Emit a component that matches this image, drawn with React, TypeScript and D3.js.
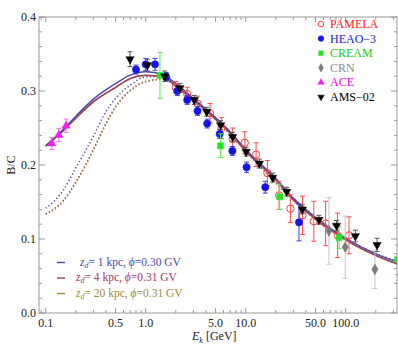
import * as d3 from 'd3';

// model curves (B/C vs kinetic energy per nucleon)
const curveE = [0.1, 0.15, 0.2, 0.3, 0.5, 0.7, 1, 1.5, 2, 3, 5, 7, 10, 20, 30, 50, 100, 200, 350];
const solidZ1 = [0.226, 0.248, 0.266, 0.289, 0.31, 0.3215, 0.326, 0.322, 0.31, 0.29, 0.264, 0.245, 0.221, 0.182, 0.155, 0.129, 0.101, 0.08, 0.068];
const solidZ4 = [0.226, 0.247, 0.264, 0.2856, 0.305, 0.317, 0.3215, 0.319, 0.307, 0.288, 0.262, 0.243, 0.219, 0.18, 0.153, 0.127, 0.099, 0.078, 0.065];
const solidZ20 = [0.225, 0.246, 0.263, 0.285, 0.3045, 0.3165, 0.321, 0.3185, 0.3065, 0.2875, 0.2615, 0.2425, 0.2185, 0.1795, 0.1525, 0.1265, 0.0985, 0.0775, 0.0645];

const dotE = [0.1, 0.15, 0.2, 0.25, 0.3, 0.4, 0.5, 0.7, 1, 1.5, 2, 3, 5, 10, 30, 100, 350];
const dotZ1 = [0.1415, 0.166, 0.196, 0.219, 0.239, 0.272, 0.29, 0.308, 0.319, 0.3195, 0.309, 0.29, 0.264, 0.221, 0.155, 0.101, 0.068];
const dotZ4 = [0.134, 0.152, 0.177, 0.2, 0.221, 0.256, 0.279, 0.301, 0.313, 0.316, 0.307, 0.289, 0.262, 0.219, 0.153, 0.099, 0.065];
const dotZ20 = [0.133, 0.151, 0.176, 0.199, 0.22, 0.255, 0.278, 0.3, 0.3125, 0.3155, 0.3065, 0.2885, 0.2615, 0.2185, 0.1525, 0.0985, 0.0645];

// experimental data
const pamelaE = [2.0, 2.6, 3.3, 4.4, 5.75, 7.4, 9.8, 12.7, 16.5, 21.6, 28, 37, 48, 63, 83, 108];
const pamelaV = [0.305, 0.296, 0.283, 0.27, 0.25, 0.235, 0.23, 0.214, 0.189, 0.159, 0.141, 0.132, 0.124, 0.121, 0.105, 0.105];
const pamelaErr = [0.008, 0.009, 0.01, 0.013, 0.014, 0.015, 0.015, 0.016, 0.017, 0.019, 0.019, 0.026, 0.027, 0.03, 0.03, 0.025];

const heaoE = [0.8, 1.0, 1.24, 1.6, 2.07, 2.6, 3.3, 4.12, 5.5, 7.36, 10.2, 15.7, 34.1];
const heaoV = [0.329, 0.336, 0.336, 0.319, 0.3, 0.288, 0.273, 0.256, 0.242, 0.219, 0.197, 0.17, 0.1225];
const heaoErr = [0.006, 0.008, 0.008, 0.006, 0.006, 0.006, 0.006, 0.006, 0.006, 0.006, 0.007, 0.008, 0.025];

const creamE = [1.39, 5.6, 21.9, 86, 330];
const creamV = [0.321, 0.226, 0.157, 0.102, 0.072];
const creamErr = [0.031, 0.016, 0.017, 0.015, 0.02];

const crnE = [68, 99, 196];
const crnV = [0.111, 0.089, 0.059];
const crnErr = [0.045, 0.042, 0.026];

const aceE = [0.115, 0.135, 0.16];
const aceV = [0.229, 0.2405, 0.253];
const aceErr = [0.008, 0.009, 0.009];

const amsE = [0.697, 1.04, 1.55, 2.2, 3.06, 4.07, 5.62, 7.4, 10.1, 13.7, 18.6, 25.7, 36.8, 54, 81, 125, 206];
const amsV = [0.343, 0.335, 0.32, 0.304, 0.288, 0.272, 0.254, 0.238, 0.218, 0.202, 0.183, 0.164, 0.14, 0.126, 0.118, 0.104, 0.092];
const amsErr = [0.01, 0.008, 0.007, 0.006, 0.006, 0.006, 0.006, 0.006, 0.006, 0.006, 0.006, 0.006, 0.006, 0.006, 0.007, 0.008, 0.009];

const xTickLabels = ['0.1', '0.5', '1.0', '5.0', '10.0', '50.0', '100.0'];
const yTickLabels = ['0.0', '0.1', '0.2', '0.3', '0.4'];

const modelNames = ['1', '4', '20'];
const modelPhi = ['0.30', '0.31', '0.31'];
const modelColors = ['#4b4ba6', '#a3386c', '#9d8b3a'];

const W = 398;
const H = 354;
const font = "'Liberation Serif', 'DejaVu Serif', serif";

const x = d3.scaleLog().domain([0.0857, 326]).range([39, 397]);
const y = d3.scaleLinear().domain([0, 0.4]).range([313, 17]);

type Series = {
  name: string;
  E: number[];
  V: number[];
  err: number[];
  color: string;
  bar: string;
  text: string;
  shape: d3.SymbolType;
  size: number;
  open?: boolean;
  flip?: boolean;
};

const series: Series[] = [
  { name: 'PAMELA', E: pamelaE, V: pamelaV, err: pamelaErr, color: '#ff3b3b', bar: '#ff4a4a', text: '#ff2020', shape: d3.symbolCircle, size: 42, open: true },
  { name: 'HEAO\u22123', E: heaoE, V: heaoV, err: heaoErr, color: '#1414e6', bar: '#3a3aee', text: '#2020e0', shape: d3.symbolCircle, size: 42 },
  { name: 'CREAM', E: creamE, V: creamV, err: creamErr, color: '#1ee61e', bar: '#55ee55', text: '#10d010', shape: d3.symbolSquare, size: 36 },
  { name: 'CRN', E: crnE, V: crnV, err: crnErr, color: '#7a7a7a', bar: '#c4c4c4', text: '#8a8a8a', shape: d3.symbolDiamond, size: 34 },
  { name: 'ACE', E: aceE, V: aceV, err: aceErr, color: '#f020f0', bar: '#f070f0', text: '#f000f0', shape: d3.symbolTriangle, size: 30 },
  { name: 'AMS\u221202', E: amsE, V: amsV, err: amsErr, color: '#000000', bar: '#555555', text: '#000000', shape: d3.symbolTriangle, size: 30, flip: true },
];

const line = d3
  .line<[number, number]>()
  .x((d) => x(d[0]))
  .y((d) => y(d[1]))
  .curve(d3.curveMonotoneX);

const zip = (a: number[], b: number[]) => a.map((e, i) => [e, b[i]] as [number, number]);

const solids = [solidZ1, solidZ4, solidZ20];
const dots = [dotZ1, dotZ4, dotZ20];

// log-axis ticks
const majorX = [0.1, 0.5, 1, 5, 10, 50, 100];
const minorX: number[] = [];
for (const dec of [0.01, 0.1, 1, 10, 100]) {
  for (let k = 1; k < 10; k++) {
    const v = dec * k;
    if (v >= x.domain()[0] && v <= x.domain()[1] && !majorX.some((m) => Math.abs(m - v) < 1e-9)) minorX.push(v);
  }
}
const majorY = d3.range(0, 0.41, 0.1);
const minorY = d3.range(0, 0.401, 0.02).filter((v) => Math.abs(v * 10 - Math.round(v * 10)) > 1e-6);

function Marker({ s, cx, cy, scale = 1 }: { s: Series; cx: number; cy: number; scale?: number }) {
  const d = d3.symbol().type(s.shape).size(s.size * scale)()!;
  return (
    <path
      d={d}
      transform={`translate(${cx},${cy})${s.flip ? ' rotate(180)' : ''}`}
      fill={s.open ? 'none' : s.color}
      stroke={s.color}
      strokeWidth={s.open ? 1 : 0.5}
    />
  );
}

export default function App() {
  const [x0, x1] = x.range();
  const [yb, yt] = y.range();
  const frame = '#9a9a9a';
  return (
    <svg width={W} height={H} style={{ position: 'absolute', left: 0, top: 0, background: '#fff', fontFamily: font }}>
      <defs>
        <clipPath id="plot">
          <rect x={x0} y={yt} width={x1 - x0} height={yb - yt} />
        </clipPath>
      </defs>

      {/* frame */}
      <rect x={x0} y={yt} width={x1 - x0} height={yb - yt} fill="none" stroke={frame} strokeWidth={1} />

      {/* x ticks, bottom and top */}
      {majorX.map((v) => (
        <g key={'mx' + v}>
          <line x1={x(v)} x2={x(v)} y1={yb} y2={yb - 5} stroke={frame} />
          <line x1={x(v)} x2={x(v)} y1={yt} y2={yt + 5} stroke={frame} />
        </g>
      ))}
      {minorX.map((v) => (
        <g key={'nx' + v}>
          <line x1={x(v)} x2={x(v)} y1={yb} y2={yb - 3} stroke={frame} />
          <line x1={x(v)} x2={x(v)} y1={yt} y2={yt + 3} stroke={frame} />
        </g>
      ))}
      {majorX.map((v, i) => (
        <text key={'lx' + v} x={x(v)} y={yb + 14} textAnchor="middle" fontSize={12} fill="#222">
          {xTickLabels[i]}
        </text>
      ))}

      {/* y ticks, left and right */}
      {majorY.map((v) => (
        <g key={'my' + v}>
          <line x1={x0} x2={x0 + 6} y1={y(v)} y2={y(v)} stroke={frame} />
          <line x1={x1} x2={x1 - 6} y1={y(v)} y2={y(v)} stroke={frame} />
        </g>
      ))}
      {minorY.map((v) => (
        <g key={'ny' + v}>
          <line x1={x0} x2={x0 + 3} y1={y(v)} y2={y(v)} stroke={frame} />
          <line x1={x1} x2={x1 - 3} y1={y(v)} y2={y(v)} stroke={frame} />
        </g>
      ))}
      {majorY.map((v, i) => (
        <text key={'ly' + i} x={x0 - 3} y={y(v) + 4} textAnchor="end" fontSize={12} fill="#222">
          {yTickLabels[i]}
        </text>
      ))}

      {/* axis titles */}
      <text transform={`translate(15,${(yt + yb) / 2}) rotate(-90)`} textAnchor="middle" fontSize={12} fill="#222">
        B/C
      </text>
      <text x={192} y={340} fontSize={12} fill="#222">
        <tspan fontStyle="italic">E</tspan>
        <tspan fontStyle="italic" fontSize={8} dy={3}>k</tspan>
        <tspan dy={-3}> [GeV]</tspan>
      </text>

      <g clipPath="url(#plot)">
        {/* interstellar (dotted) curves */}
        {dots.map((vals, i) => (
          <path
            key={'dot' + i}
            d={line(zip(dotE, vals))!}
            fill="none"
            stroke={modelColors[i]}
            strokeWidth={1.5}
            strokeDasharray="1.3,2.3"
          />
        ))}
        {/* modulated (solid) curves */}
        {[2, 1, 0].map((i) => (
          <path key={'sol' + i} d={line(zip(curveE, solids[i]))!} fill="none" stroke={modelColors[i]} strokeWidth={1.4} />
        ))}

        {/* data error bars and markers */}
        {series.map((s) => (
          <g key={s.name}>
            {s.E.map((e, i) => {
              const cx = x(e);
              const top = y(s.V[i] + s.err[i]);
              const bot = y(s.V[i] - s.err[i]);
              return (
                <g key={i}>
                  <line x1={cx} x2={cx} y1={top} y2={bot} stroke={s.bar} strokeWidth={1} />
                  <line x1={cx - 2.5} x2={cx + 2.5} y1={top} y2={top} stroke={s.bar} strokeWidth={1} />
                  <line x1={cx - 2.5} x2={cx + 2.5} y1={bot} y2={bot} stroke={s.bar} strokeWidth={1} />
                  <Marker s={s} cx={cx} cy={y(s.V[i])} />
                </g>
              );
            })}
          </g>
        ))}
      </g>

      {/* data legend */}
      {series.map((s, i) => (
        <g key={'leg' + s.name}>
          <Marker s={s} cx={321} cy={24 + i * 14.6} scale={0.6} />
          <text x={330} y={28 + i * 14.6} fontSize={12} fill={s.text}>
            {s.name}
          </text>
        </g>
      ))}

      {/* model legend */}
      {modelNames.map((n, i) => (
        <g key={'ml' + n}>
          <line x1={57} x2={65} y1={262.5 + i * 15.5} y2={262.5 + i * 15.5} stroke={modelColors[i]} strokeWidth={1.4} />
          <text x={i === 0 ? 80 : 76} y={265.5 + i * 15.5} fontSize={11.5} fill={modelColors[i]}>
            <tspan fontStyle="italic">z</tspan>
            <tspan fontStyle="italic" fontSize={8} dy={2}>d</tspan>
            <tspan dy={-2}>{`= ${n} kpc,  `}</tspan>
            <tspan fontStyle="italic">{'\u03d5'}</tspan>
            <tspan>{`=${modelPhi[i]} GV`}</tspan>
          </text>
        </g>
      ))}
    </svg>
  );
}
